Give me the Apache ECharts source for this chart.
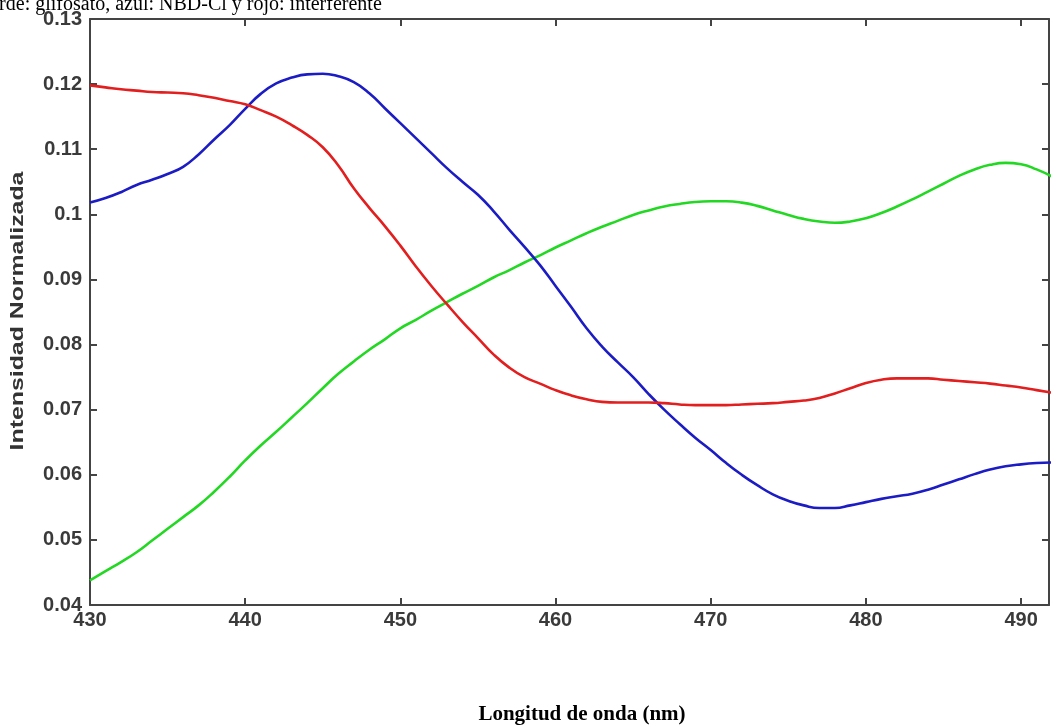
<!DOCTYPE html>
<html>
<head>
<meta charset="utf-8">
<script src="https://cdn.jsdelivr.net/npm/echarts@6/dist/echarts.min.js"></script>
<style>
html,body{margin:0;padding:0;background:#fff;}
#chart{width:1051px;height:727px;}
</style>
</head>
<body>
<div id="chart"></div>
<script>
const titleText = 'Verde: glifosato, azul: NBD-Cl y rojo: interferente';
const xAxisTitle = 'Longitud de onda (nm)';
const yAxisTitle = 'Intensidad Normalizada';

const wavelengths = [430,431,432,433,434,435,436,437,438,439,440,441,442,443,444,445,446,447,448,449,450,451,452,453,454,455,456,457,458,459,460,461,462,463,464,465,466,467,468,469,470,471,472,473,474,475,476,477,478,479,480,481,482,483,484,485,486,487,488,489,490,491,492];

const nbdCl = [0.1018,0.1025,0.1034,0.1045,0.1053,0.1062,0.1073,0.1092,0.1115,0.1137,0.1162,0.1185,0.1201,0.1210,0.1215,0.1216,0.1212,0.1203,0.1186,0.1163,0.1140,0.1117,0.1094,0.1071,0.1050,0.1030,0.1005,0.0977,0.0950,0.0922,0.0890,0.0858,0.0825,0.0797,0.0773,0.0750,0.0724,0.0700,0.0678,0.0657,0.0638,0.0618,0.0600,0.0584,0.0570,0.0560,0.0553,0.0549,0.0549,0.0553,0.0558,0.0563,0.0567,0.0571,0.0577,0.0585,0.0593,0.0601,0.0608,0.0613,0.0616,0.0618,0.0619];

const interferente = [0.1198,0.1195,0.1192,0.1190,0.1188,0.1187,0.1186,0.1183,0.1179,0.1174,0.1169,0.1160,0.1150,0.1137,0.1122,0.1103,0.1075,0.1040,0.1010,0.0982,0.0952,0.0920,0.0890,0.0862,0.0835,0.0810,0.0785,0.0765,0.0750,0.0740,0.0730,0.0722,0.0716,0.0712,0.0711,0.0711,0.0711,0.0710,0.0708,0.0707,0.0707,0.0707,0.0708,0.0709,0.0710,0.0712,0.0714,0.0718,0.0725,0.0733,0.0741,0.0746,0.0748,0.0748,0.0748,0.0746,0.0744,0.0742,0.0740,0.0737,0.0734,0.0730,0.0726];

const glifosato = [0.0438,0.0452,0.0466,0.0481,0.0499,0.0517,0.0535,0.0553,0.0574,0.0597,0.0622,0.0645,0.0666,0.0688,0.0710,0.0733,0.0755,0.0774,0.0792,0.0808,0.0825,0.0838,0.0852,0.0865,0.0878,0.0890,0.0903,0.0914,0.0926,0.0937,0.0949,0.0960,0.0971,0.0981,0.0990,0.0999,0.1006,0.1012,0.1016,0.1019,0.1020,0.1020,0.1018,0.1013,0.1006,0.0999,0.0993,0.0989,0.0987,0.0989,0.0994,0.1002,0.1012,0.1023,0.1035,0.1047,0.1059,0.1069,0.1076,0.1079,0.1077,0.1069,0.1058];

const pairs = arr => wavelengths.map((w, i) => [w, arr[i]]);

const chart = echarts.init(document.getElementById('chart'));
const axisLine = {show: true, lineStyle: {color: '#444', width: 2}};
const axisTick = {show: true, inside: true, length: 7, lineStyle: {color: '#444', width: 2}};
const labelStyle = {color: '#3a3a3a', fontFamily: 'Arial, Liberation Sans, sans-serif', fontWeight: 'bold', fontSize: 20};

chart.setOption({
  animation: false,
  backgroundColor: '#fff',
  grid: {left: 90, top: 19, right: 2, bottom: 122, containLabel: false},
  xAxis: [
    {type: 'value', position: 'bottom', min: 430, max: 491.8, interval: 10,
     axisLine: axisLine, axisTick: axisTick, splitLine: {show: false},
     axisLabel: Object.assign({margin: 5, showMaxLabel: false}, labelStyle)},
    {type: 'value', position: 'top', min: 430, max: 491.8, interval: 10,
     axisLine: axisLine, axisTick: axisTick, splitLine: {show: false},
     axisLabel: {show: false}}
  ],
  yAxis: [
    {type: 'value', position: 'left', min: 0.04, max: 0.13, interval: 0.01,
     axisLine: axisLine, axisTick: axisTick, splitLine: {show: false},
     axisLabel: Object.assign({margin: 8}, labelStyle)},
    {type: 'value', position: 'right', min: 0.04, max: 0.13, interval: 0.01,
     axisLine: axisLine, axisTick: axisTick, splitLine: {show: false},
     axisLabel: {show: false}}
  ],
  graphic: [
    {type: 'text', left: -22, top: -5, silent: true,
     style: {text: titleText, font: '20px "Liberation Serif", "Times New Roman", serif', fill: '#000'}},
    {type: 'text', x: 582, y: 715, silent: true,
     style: {text: xAxisTitle, font: 'bold 21px "Liberation Serif", "Times New Roman", serif', fill: '#000', align: 'center', verticalAlign: 'middle'}},
    {type: 'text', x: 18, y: 311, rotation: Math.PI / 2, scaleX: 1.38, silent: true,
     style: {text: yAxisTitle, font: 'bold 18px Arial, "Liberation Sans", sans-serif', fill: '#333', align: 'center', verticalAlign: 'middle'}}
  ],
  series: [
    {name: 'glifosato', type: 'line', data: pairs(glifosato), showSymbol: false, smooth: true, clip: true,
     lineStyle: {color: '#22d822', width: 2.6}},
    {name: 'NBD-Cl', type: 'line', data: pairs(nbdCl), showSymbol: false, smooth: true, clip: true,
     lineStyle: {color: '#1c1cc4', width: 2.6}},
    {name: 'interferente', type: 'line', data: pairs(interferente), showSymbol: false, smooth: true, clip: true,
     lineStyle: {color: '#e21e1e', width: 2.6}}
  ]
});
</script>
</body>
</html>
